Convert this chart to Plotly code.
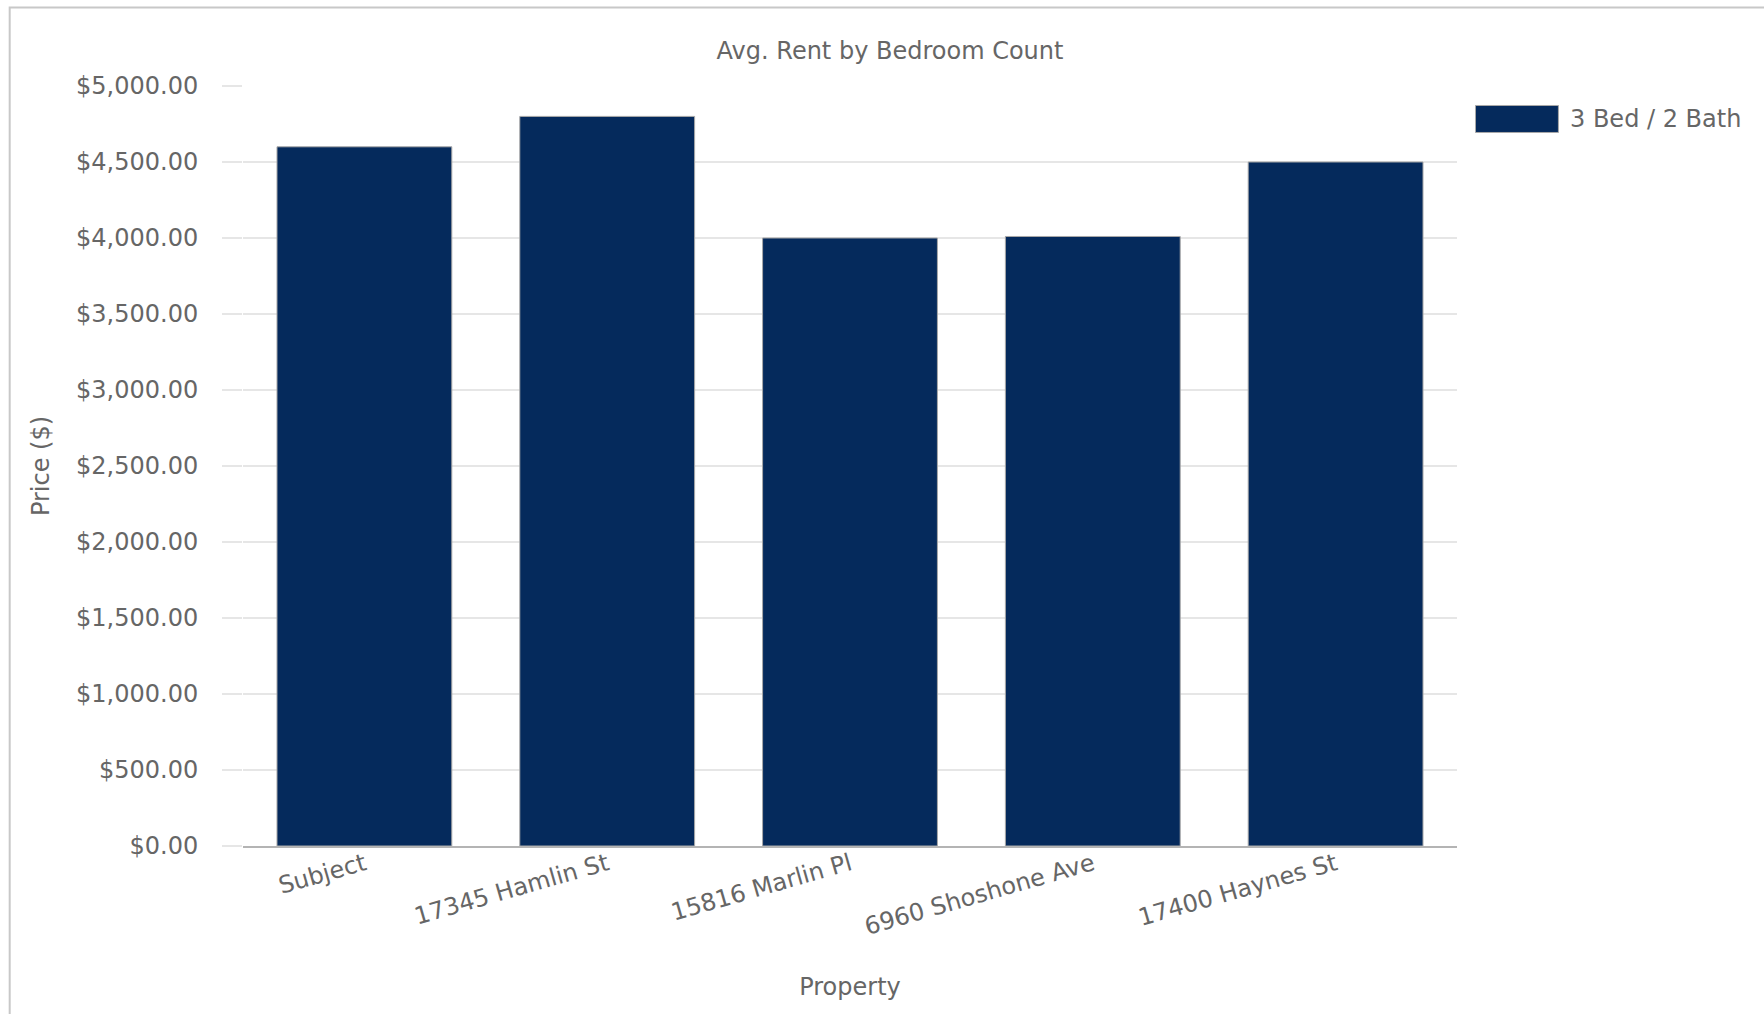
import plotly.graph_objects as go

# ---- data ----
properties = ["Subject", "17345 Hamlin St", "15816 Marlin Pl", "6960 Shoshone Ave", "17400 Haynes St"]
avg_rent = [4600, 4800, 4000, 4010, 4500]
series_name = "3 Bed / 2 Bath"
chart_title = "Avg. Rent by Bedroom Count"
y_title = "Price ($)"
x_title = "Property"
y_tick_values = [0, 500, 1000, 1500, 2000, 2500, 3000, 3500, 4000, 4500, 5000]

# ---- styling ----
W, H = 1764, 1014
L, R, T, B = 242.5, 306.5, 85.5, 168
PW, PH = W - L - R, H - T - B
FONT = "DejaVu Sans"
TXT = "#666666"
BAR = "#052a5c"
GRID = "#e6e6e6"


def px_x(px):
    return (px - L) / PW


def px_y(py):
    return (H - B - py) / PH


fig = go.Figure()
fig.add_trace(go.Bar(
    x=properties,
    y=avg_rent,
    name=series_name,
    marker=dict(color=BAR, line=dict(color="#a8a8a8", width=1)),
    showlegend=False,
))

fig.update_layout(
    width=W, height=H,
    margin=dict(l=L, r=R, t=T, b=B, autoexpand=False),
    paper_bgcolor="white", plot_bgcolor="white",
    font=dict(family=FONT, size=24, color=TXT),
    bargap=0.28,
    title=dict(text=chart_title, x=890 / W, xref="container", xanchor="center",
               y=1 - 51 / H, yref="container", yanchor="middle",
               font=dict(size=24, color=TXT, family=FONT)),
    xaxis=dict(
        showgrid=False, zeroline=False,
        showline=True, linecolor="#b4b4b4", linewidth=2,
        ticks="", tickangle=-16,
        ticklabelstandoff=-7,
        tickfont=dict(size=24, color=TXT),
        title=dict(text=x_title, standoff=39, font=dict(size=24, color=TXT)),
        automargin=False,
    ),
    yaxis=dict(
        range=[0, 5000],
        tickvals=y_tick_values,
        tickformat="$,.2f",
        showgrid=True, gridcolor=GRID, gridwidth=2,
        zeroline=False, showline=False,
        ticks="outside", ticklen=20, tickcolor=GRID, tickwidth=2,
        ticklabelstandoff=19,
        tickfont=dict(size=24, color=TXT),
        title=dict(text=y_title, standoff=19, font=dict(size=24, color=TXT)),
        automargin=False,
    ),
    shapes=[
        # container border (top and left edges visible)
        dict(type="rect", xref="paper", yref="paper",
             x0=px_x(9), x1=px_x(1900), y0=px_y(1100), y1=px_y(7),
             line=dict(color="#c8c8c8", width=2), fillcolor="rgba(0,0,0,0)", layer="below"),
        # legend swatch
        dict(type="rect", xref="paper", yref="paper",
             x0=px_x(1476), x1=px_x(1559), y0=px_y(132), y1=px_y(105),
             line=dict(color="#a8a8a8", width=1), fillcolor=BAR),
    ],
    annotations=[
        dict(text=series_name, xref="paper", yref="paper",
             x=px_x(1569), y=px_y(118.5), xanchor="left", yanchor="middle",
             showarrow=False, font=dict(size=24, color=TXT, family=FONT)),
    ],
)

fig.write_html("out.html")
